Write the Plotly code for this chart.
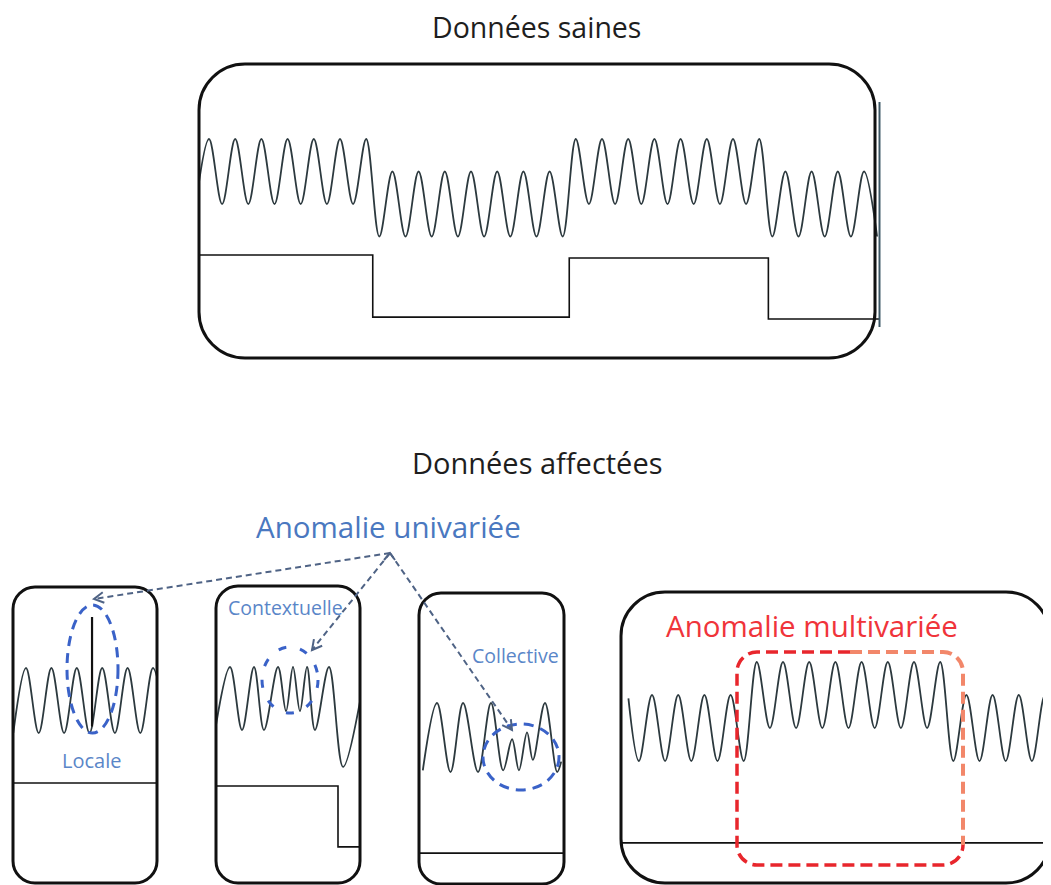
import math
import plotly.graph_objects as go

# The page body has an 8px margin: the figure is offset by OFF pixels in the screenshot.
OFF = 8
W, H = 1051 - OFF, 885 - OFF

# ---------------- data (signal extrema, in signal units) ----------------
# Healthy data: oscillating sensor (extrema, one per half-period) + binary state
TOP_WAVE = [0,
            2, 0, 2, 0, 2, 0, 2, 0, 2, 0, 2, 0, 2,
            -1, 1, -1, 1, -1, 1, -1, 1, -1, 1, -1, 1, -1, 1, -1,
            2, 0, 2, 0, 2, 0, 2, 0, 2, 0, 2, 0, 2, 0, 2,
            -1, 1, -1, 1, -1, 1, -1, 1, -1]
TOP_STATE_LEVELS = [-1.57, -3.48, -1.66, -3.54]
TOP_STATE_CHANGES = [12.5, 27.5, 42.7]

# Local anomaly (spike)
LOC_WAVE = [0, 2, 0, 2, 0, 2, 0, 2, 0, 2, 0, 2, 0]
LOC_SPIKE_T = 5.2
LOC_SPIKE = [0.2, 3.57]
LOC_STATE = -1.54

# Contextual anomaly (frequency change)
CTX_T = [-1.17, 0, 1, 2, 2.83, 4, 4.67, 5.25, 5.83, 6.42, 7.08, 8.25, 9.42, 10.83]
CTX_WAVE = [0.15, 2, 0, 2, 0, 2, 0.6, 2, 0.6, 2, 0, 2, -1.17, 0.9]
CTX_STATE_LEVELS = [-1.78, -3.71]
CTX_STATE_CHANGE = 9.0

# Collective anomaly (amplitude drop)
COL_T = [-1.05, 0, 1, 1.93, 3.04, 4, 4.9, 5.56, 6.07, 6.67, 7.1, 8, 8.9, 9.2]
COL_WAVE = [0.05, 2, 0, 2, 0, 2, 0.05, 0.95, 0.05, 1.15, 0.35, 2, 0, 0.3]
COL_STATE = -2.35

# Multivariate anomaly (level shift without state change)
MV_WAVE = [0.9,
           -1, 1, -1, 1, -1, 1, -1, 1, -1,
           2, 0, 2, 0, 2, 0, 2, 0, 2, 0, 2, 0, 2, 0, 2,
           -1, 1, -1, 1, -1, 1, -1, 1, -1]
MV_STATE = -3.48

TITLES = ["Données saines", "Données affectées"]
LABELS = ["Anomalie univariée", "Locale", "Contextuelle", "Collective", "Anomalie multivariée"]

# ---------------- layout geometry (screen pixels) ----------------
# box: l, t, r, b ; map: x px of t=0, px per half-period, y px of v=0, px per unit
PANELS = {
    "top": dict(box=(199, 64, 880, 358), t0=209, dx=13.1, v0=204, dy=32.5),
    "loc": dict(box=(13, 587, 157, 883), t0=26, dx=12.7, v0=733, dy=32.5),
    "ctx": dict(box=(216, 586, 360, 883), t0=230, dx=12.0, v0=730, dy=31.5),
    "col": dict(box=(419, 593, 564, 884), t0=437, dx=13.5, v0=772, dy=34.5),
    "mv": dict(box=(621, 592, 1050, 883), t0=652, dx=13.1, v0=728, dy=33.0),
}

WAVE_COLOR = "#2c393e"
fig = go.Figure()
layout_axes = {}


def fx(px):
    return (px - OFF) / W


def fy(py):
    return 1 - (py - OFF) / H


def setup_axes(i, p):
    l, t, r, b = p["box"]
    xr = [(l - p["t0"]) / p["dx"], (r - p["t0"]) / p["dx"]]
    yr = [(p["v0"] - b) / p["dy"], (p["v0"] - t) / p["dy"]]
    common = dict(visible=False, showgrid=False, zeroline=False, fixedrange=True)
    layout_axes[f"xaxis{i}"] = dict(domain=[fx(l), min(1, fx(r))], range=xr, anchor=f"y{i}", **common)
    layout_axes[f"yaxis{i}"] = dict(domain=[max(0, fy(b)), fy(t)], range=yr, anchor=f"x{i}", **common)
    return xr


def wave(i, t, v):
    fig.add_trace(go.Scatter(x=t, y=v, mode="lines", xaxis=f"x{i}", yaxis=f"y{i}",
                             line=dict(color=WAVE_COLOR, width=1.8, shape="spline", smoothing=1),
                             hoverinfo="skip", showlegend=False))


def state(i, xr, levels, changes):
    xs = [xr[0]] + list(changes) + [xr[1]]
    ys = list(levels) + [levels[-1]]
    fig.add_trace(go.Scatter(x=xs, y=ys, mode="lines", xaxis=f"x{i}", yaxis=f"y{i}",
                             line=dict(color="#111111", width=1.6, shape="hv"),
                             hoverinfo="skip", showlegend=False))


# top panel
xr = setup_axes(2, PANELS["top"])
wave(2, list(range(-1, len(TOP_WAVE) - 1)), TOP_WAVE)
state(2, xr, TOP_STATE_LEVELS, TOP_STATE_CHANGES)

# local
xr = setup_axes(3, PANELS["loc"])
wave(3, list(range(-1, len(LOC_WAVE) - 1)), LOC_WAVE)
fig.add_trace(go.Scatter(x=[LOC_SPIKE_T, LOC_SPIKE_T], y=LOC_SPIKE, mode="lines", xaxis="x3", yaxis="y3",
                         line=dict(color="#111111", width=2.2), hoverinfo="skip", showlegend=False))
state(3, xr, [LOC_STATE], [])

# contextual
xr = setup_axes(4, PANELS["ctx"])
wave(4, CTX_T, CTX_WAVE)
state(4, xr, CTX_STATE_LEVELS, [CTX_STATE_CHANGE])

# collective
xr = setup_axes(5, PANELS["col"])
wave(5, COL_T, COL_WAVE)
state(5, xr, [COL_STATE], [])

# multivariate
xr = setup_axes(6, PANELS["mv"])
wave(6, [-1.8] + list(range(-1, len(MV_WAVE) - 2)), MV_WAVE)
state(6, xr, [MV_STATE], [])

# ---------------- decorations (screen pixel coordinate system) ----------------
K = 0.5523


def rrect(l, t, r, b, rad):
    k = rad * K
    return (f"M {l+rad},{t} L {r-rad},{t} C {r-rad+k},{t} {r},{t+rad-k} {r},{t+rad} "
            f"L {r},{b-rad} C {r},{b-rad+k} {r-rad+k},{b} {r-rad},{b} "
            f"L {l+rad},{b} C {l+rad-k},{b} {l},{b-rad+k} {l},{b-rad} "
            f"L {l},{t+rad} C {l},{t+rad-k} {l+rad-k},{t} {l+rad},{t} Z")


shapes = []
for (l, t, r, b, rad) in [(199, 64, 875, 358, 46), (13, 587, 157, 883, 22), (216, 586, 360, 883, 22),
                          (419, 593, 564, 884, 22), (621, 592, 1050, 883, 44)]:
    shapes.append(dict(type="path", path=rrect(l, t, r, b, rad), xref="x", yref="y",
                       line=dict(color="#111111", width=3)))
shapes.append(dict(type="line", x0=879.5, x1=879.5, y0=102, y1=327, xref="x", yref="y",
                   line=dict(color="#3d5866", width=2)))

# blue ellipses
BLUE = "#3a62c8"
for (cx, cy, rx, ry, dash) in [(92.5, 669, 25.5, 64, "10px,7px"), (290, 680, 28, 33, "8px,14px"),
                               (521, 757, 38, 33, "10px,7px")]:
    shapes.append(dict(type="circle", x0=cx - rx, x1=cx + rx, y0=cy - ry, y1=cy + ry, xref="x", yref="y",
                       line=dict(color=BLUE, width=3, dash=dash)))

# multivariate dashed box (red -> salmon)
l, t, r, b, rad = 737, 652, 963, 865, 20
k = rad * K
red_path = (f"M 850,{t} L {l+rad},{t} C {l+rad-k},{t} {l},{t+rad-k} {l},{t+rad} "
            f"L {l},{b-rad} C {l},{b-rad+k} {l+rad-k},{b} {l+rad},{b} "
            f"L {r-rad},{b} C {r-rad+k},{b} {r},{b-rad+k} {r},{b-rad}")
org_path = (f"M 850,{t} L {r-rad},{t} C {r-rad+k},{t} {r},{t+rad-k} {r},{t+rad} L {r},{b-rad}")
shapes.append(dict(type="path", path=red_path, xref="x", yref="y",
                   line=dict(color="#e8262c", width=3.5, dash="12px,6px")))
shapes.append(dict(type="path", path=org_path, xref="x", yref="y",
                   line=dict(color="#f2876a", width=4, dash="12px,6px")))

# dashed arrows from "Anomalie univariée"
ARROW = "#4f6385"
apex = (390, 553)
for tip in [(94, 599), (312, 650), (512, 730)]:
    shapes.append(dict(type="line", x0=apex[0], y0=apex[1], x1=tip[0], y1=tip[1], xref="x", yref="y",
                       line=dict(color=ARROW, width=2, dash="6px,4px")))
    dxv, dyv = tip[0] - apex[0], tip[1] - apex[1]
    n = math.hypot(dxv, dyv)
    ux, uy = dxv / n, dyv / n
    pts = []
    for ang in (0.5, -0.5):
        ca, sa = math.cos(ang), math.sin(ang)
        rx_, ry_ = ux * ca - uy * sa, ux * sa + uy * ca
        pts.append((tip[0] - 11 * rx_, tip[1] - 11 * ry_))
    shapes.append(dict(type="path", xref="x", yref="y",
                       path=f"M {pts[0][0]},{pts[0][1]} L {tip[0]},{tip[1]} L {pts[1][0]},{pts[1][1]}",
                       line=dict(color=ARROW, width=2)))
# small apex arrowhead
shapes.append(dict(type="path", xref="x", yref="y", path="M 384,560 L 390,553 L 395,560",
                   line=dict(color=ARROW, width=2)))

FONT = "Open Sans, Segoe UI, sans-serif"
annotations = []
for (txt, x, y, size, color) in [
    (TITLES[0], 536, 27, 28.5, "#1e1e1e"),
    (TITLES[1], 537, 462, 29, "#1e1e1e"),
    (LABELS[0], 388, 526, 29.5, "#4a78c0"),
    (LABELS[1], 91, 760, 20, "#5a86c8"),
    (LABELS[2], 285, 607, 19.5, "#5a86c8"),
    (LABELS[3], 515, 655, 19.5, "#5a86c8"),
    (LABELS[4], 812, 625, 29.5, "#f0343a"),
]:
    annotations.append(dict(text=txt, x=x, y=y, xref="x", yref="y", showarrow=False,
                            xanchor="center", yanchor="middle", borderpad=0,
                            font=dict(family=FONT, size=size, color=color)))

fig.update_layout(
    width=W, height=H, margin=dict(l=0, r=0, t=0, b=0),
    paper_bgcolor="white", plot_bgcolor="white", showlegend=False,
    xaxis=dict(domain=[0, 1], range=[OFF, OFF + W], visible=False, showgrid=False, zeroline=False,
               fixedrange=True),
    yaxis=dict(domain=[0, 1], range=[OFF + H, OFF], visible=False, showgrid=False, zeroline=False,
               fixedrange=True),
    shapes=shapes, annotations=annotations,
    **layout_axes,
)
fig.write_html("out.html")
